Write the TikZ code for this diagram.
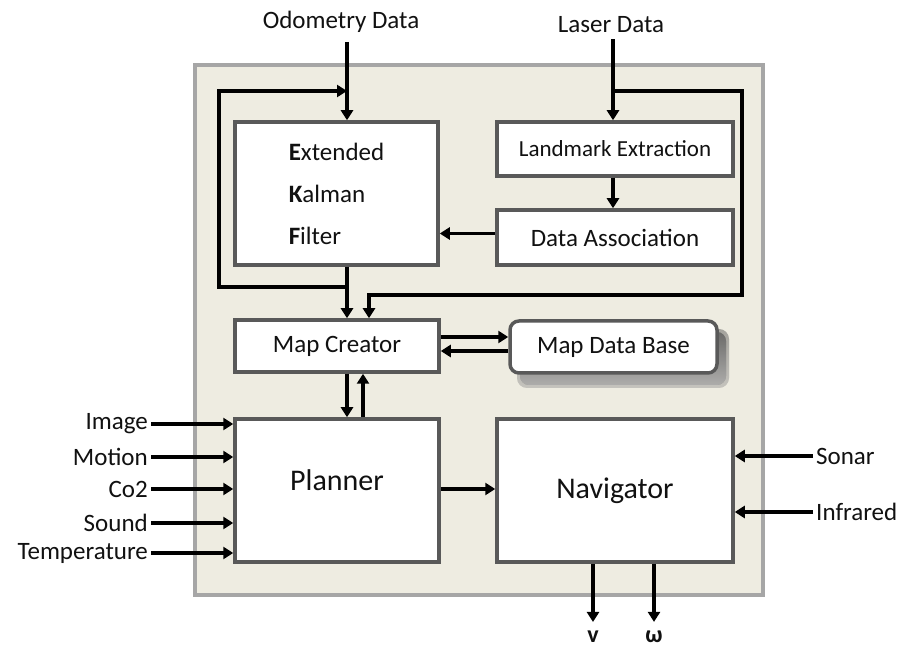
\documentclass[tikz,border=0pt]{standalone}
\usepackage{fontspec}
\setmainfont{Carlito}
\usetikzlibrary{arrows.meta,calc}
\definecolor{panelfill}{HTML}{EEECE1}
\definecolor{panelline}{HTML}{A6A6A6}
\definecolor{boxline}{HTML}{595959}
\definecolor{txt}{HTML}{111111}
\definecolor{shade}{HTML}{A8A8A8}
\begin{document}
\begin{tikzpicture}[x=1pt,y=-1pt,
  box/.style={draw=boxline, line width=3.5pt, fill=white, inner sep=0pt, text=txt,
    font=\fontsize{25}{30}\selectfont},
  lbl/.style={text=txt, inner sep=3pt, font=\fontsize{25}{30}\selectfont},
  arr/.style={line width=3.2pt, black, -{Triangle[length=10pt,width=12pt]}},
  plain/.style={line width=3.2pt, black}]
\useasboundingbox[fill=white] (0,0) rectangle (903,652);
% panel
\draw[panelline, fill=panelfill, line width=4pt] (195,65) rectangle (763,595);
% shadow of map data base
\fill[shade, opacity=0.25, rounded corners=10pt] (517,329) rectangle (729,388);
\fill[shade, opacity=0.45, rounded corners=9pt] (520,332) rectangle (726,385);
% boxes
\node[box, minimum width=203pt, minimum height=143pt, align=left,
  font=\fontsize{25}{42}\selectfont] (ekf) at (336.5,193.5)
  {\textbf{E}xtended\\\textbf{K}alman\\\textbf{F}ilter};
\node[box, minimum width=236pt, minimum height=54pt,
  font=\fontsize{23}{28}\selectfont] (lm) at (615,149) {Landmark Extraction};
\node[box, minimum width=236pt, minimum height=55pt] (da) at (615,237.5) {Data Association};
\node[box, minimum width=204pt, minimum height=52pt] (mc) at (337,346) {Map Creator};
\node[box, minimum width=207pt, minimum height=52pt, rounded corners=9pt] (mdb) at (613.5,347) {Map Data Base};
\node[box, minimum width=204pt, minimum height=143pt,
  font=\fontsize{30}{36}\selectfont] (pl) at (337,490.5) {\raisebox{0pt}[0pt][0pt]{Planner}};
\node[box, minimum width=236pt, minimum height=143pt,
  font=\fontsize{30}{36}\selectfont] (nav) at (615,490.5) {Navigator};
% outer labels
\node[lbl] (odo) at (341,22) {Odometry Data};
\node[lbl] (laser) at (611,25) {Laser Data};
\node[lbl, anchor=east] (img) at (151,424) {Image};
\node[lbl, anchor=east] (mot) at (151,457) {Motion};
\node[lbl, anchor=east] (co2) at (151,489) {Co2};
\node[lbl, anchor=east] (snd) at (151,523) {Sound};
\node[lbl, anchor=east] (tmp) at (151,553) {Temperature};
\node[lbl, anchor=west] (son) at (813,456) {Sonar};
\node[lbl, anchor=west] (ir) at (813,512) {Infrared};
\node[lbl, font=\bfseries\fontsize{24}{28}\selectfont] (v) at (593,637) {v};
\node[lbl, font=\bfseries\fontsize{24}{28}\selectfont] (w) at (654,637) {ω};
% junctions
\coordinate (jo) at (347,91);
\coordinate (jl) at (613,91);
\coordinate (je) at (347,287);
\coordinate (jr) at (369,295);
\coordinate (jrt) at (742,91);
\coordinate (jrb) at (742,295);
\coordinate (jlt) at (219,91);
\coordinate (jlb) at (219,287);
\coordinate (ju) at (363,400);
% top connectors
\draw[arr, shorten <=6pt] (odo.south -| jo) -- (jo |- ekf.north);
\draw[arr, shorten <=3pt] (laser.south -| jl) -- (jl |- lm.north);
\draw[arr] (je) -- (jlb) -- (jlt) -- (jo);
\draw[arr] (jl) -- (jrt) -- (jrb) -- (jr) -- (jr |- mc.north);
\draw[arr] (lm.south -| jl) -- (jl |- da.north);
\draw[arr] ($(da.west)+(0,-4)$) -- ($(da.west -| ekf.east)+(0,-4)$);
\draw[arr] (ekf.south -| je) -- (je |- mc.north);
% map creator <-> data base
\draw[arr] ($(mc.east)+(0,-9)$) -- ($(mdb.west)+(0,-10)$);
\draw[arr] ($(mdb.west)+(0,4)$) -- ($(mc.east)+(0,5)$);
% map creator <-> planner
\draw[arr] (mc.south -| je) -- (je |- pl.north);
\draw[arr] (pl.north -| ju) -- (ju |- mc.south);
% planner -> navigator
\draw[arr] ($(pl.east)+(0,-1.5)$) -- ($(nav.west)+(0,-1.5)$);
% sensor inputs
\draw[arr] (img.east) -- (img.east -| pl.west);
\draw[arr] (mot.east) -- (mot.east -| pl.west);
\draw[arr] (co2.east) -- (co2.east -| pl.west);
\draw[arr] (snd.east) -- (snd.east -| pl.west);
\draw[arr] (tmp.east) -- (tmp.east -| pl.west);
\draw[arr] (son.west) -- (son.west -| nav.east);
\draw[arr] (ir.west) -- (ir.west -| nav.east);
% outputs
\draw[arr, shorten >=6pt] (nav.south -| v) -- (v.north);
\draw[arr, shorten >=6pt] (nav.south -| w) -- (w.north);
\end{tikzpicture}
\end{document}
